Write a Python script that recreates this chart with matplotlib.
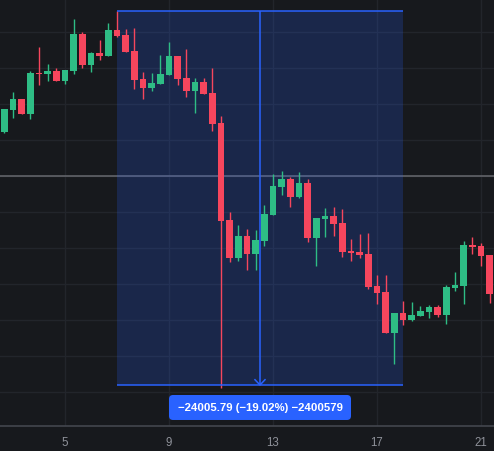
import matplotlib
matplotlib.use("Agg")
import matplotlib.pyplot as plt
from matplotlib.patches import Rectangle, FancyBboxPatch
from matplotlib.transforms import IdentityTransform
import numpy as np

# ---- data (8h candles) ----
opens = [118478, 119892, 120579, 119635, 122249, 122204, 122378, 121755, 122397, 124755,
         122782, 123534, 123341, 125012, 124690, 123663, 121864, 121305, 121562, 122140,
         123341, 121928, 121112, 121671, 120965, 119037, 112806, 110384, 111778, 110622,
         111457, 113127, 114926, 115440, 114283, 115183, 111650, 112870, 113062, 112613,
         110815, 110751, 110622, 108567, 108181, 105547, 106832, 106383, 106639, 106896,
         107217, 106703, 108438, 108567, 111200, 111136, 110558]
highs = [119939, 121029, 120579, 122378, 123920, 122827, 122551, 122442, 125718, 124883,
         123598, 124369, 125461, 126213, 125076, 125140, 122313, 122249, 123406, 124241,
         123341, 123791, 121928, 121928, 122570, 119487, 113320, 112485, 112228, 112164,
         113769, 115761, 115954, 115568, 115889, 115440, 112934, 113577, 113641, 113513,
         111585, 111907, 111971, 109273, 109273, 106832, 107603, 107539, 107282, 107346,
         107346, 108631, 109466, 111457, 111714, 111328, 110558]
lows = [118414, 119378, 119635, 119314, 121498, 121755, 121755, 121562, 122204, 122590,
        122333, 123104, 123341, 124562, 123617, 121241, 120598, 121112, 121562, 122140,
        121498, 120727, 119699, 120920, 118543, 102046, 110108, 110192, 109613, 109613,
        111155, 113127, 114412, 113641, 114219, 111393, 109851, 111714, 111778, 110429,
        110172, 110365, 108374, 107410, 105547, 103555, 106061, 106318, 106639, 106511,
        106575, 106125, 108246, 107410, 110622, 109851, 107474]
closes = [119939, 120579, 119635, 122249, 122204, 122378, 121755, 122442, 124755, 122782,
          123534, 123341, 125012, 124626, 123617, 121819, 121305, 121607, 122185, 123341,
          121883, 121112, 121671, 120920, 118992, 112761, 110384, 111778, 110622, 111521,
          113191, 114990, 115440, 114283, 115183, 111650, 112934, 113062, 112549, 110751,
          110686, 110558, 108502, 108117, 105547, 106832, 106383, 106703, 106960, 107217,
          106703, 108502, 108631, 111200, 111071, 110493, 108053]

tick_pos = [7, 19, 31, 43, 55]
tick_labels = ["5", "9", "13", "17", "21"]
grid_levels = [124883, 122570, 120258, 117945, 115633, 113320, 111008, 108695,
               106383, 104070, 101757]
crosshair_price = 115633

measure_start_idx = 13
measure_end_idx = 46
measure_start = 126213.17
measure_end = 102207.38

# ---- style ----
BG = "#17191d"
GRID = "#22252b"
UP = "#2ebd85"
DOWN = "#f6465d"
BLUE = "#2962ff"

W, H = 494, 452
fig = plt.figure(figsize=(W / 100, H / 100), dpi=100, facecolor=BG)
ax = fig.add_axes([0, 25 / H, 1, 427 / H])
ax.set_facecolor(BG)
ax.set_xlim(-0.5, 56.5)
ax.set_ylim(99573, 127003)

for s in ["top", "left", "right"]:
    ax.spines[s].set_visible(False)
ax.spines["bottom"].set_color("#43464e")
ax.spines["bottom"].set_linewidth(1.2)

ax.set_yticks(grid_levels)
ax.set_yticklabels([])
ax.tick_params(axis="y", length=0)
ax.set_xticks(tick_pos)
ax.set_xticklabels(tick_labels, family="Liberation Sans", fontsize=8.3, color="#8f929a")
ax.tick_params(axis="x", length=0, pad=7)
ax.grid(True, color=GRID, lw=1, zorder=0)
ax.set_axisbelow(True)

# crosshair
ax.axhline(crosshair_price, color="#66686e", lw=1.1, zorder=1)

# measurement box fill
ax.add_patch(Rectangle((measure_start_idx, measure_end), measure_end_idx - measure_start_idx,
                       measure_start - measure_end, facecolor=BLUE, alpha=0.2,
                       edgecolor="none", zorder=2))

# candles
x = np.arange(len(opens))
o = np.array(opens, float)
c = np.array(closes, float)
h = np.array(highs, float)
l = np.array(lows, float)
up = c >= o
colors = np.where(up, UP, DOWN)
ax.vlines(x, l, h, colors=colors, lw=1, zorder=3)
bottoms = np.minimum(o, c)
heights = np.maximum(np.abs(c - o), 70)
ax.bar(x, heights, bottom=bottoms, width=0.77, color=colors, edgecolor="none", zorder=4)

# measurement lines
mid = (measure_start_idx + measure_end_idx) / 2
ax.hlines([measure_start, measure_end], measure_start_idx, measure_end_idx,
          color=BLUE, lw=1.1, zorder=5)
ax.vlines(mid, measure_end, measure_start, color=BLUE, lw=1.1, zorder=5)
ax.plot([mid - 0.58, mid, mid + 0.58], [measure_end + 340, measure_end, measure_end + 340],
        color=BLUE, lw=1.1, zorder=5)

# label
fig.canvas.draw()
cx, cy = ax.transData.transform((mid, measure_end))
box_w, box_h = 182, 25
top = cy - 10
lab = FancyBboxPatch((cx - box_w / 2, top - box_h), box_w, box_h,
                     boxstyle="round,pad=0,rounding_size=4", transform=IdentityTransform(),
                     facecolor=BLUE, edgecolor="none", zorder=6)
fig.patches.append(lab)
diff = measure_end - measure_start
pct = diff / measure_start * 100
txt = f"{diff:.2f} ({pct:.2f}%) {round(diff * 100)}".replace("-", "\u2212")
fig.text(cx, top - box_h / 2, txt, transform=IdentityTransform(), ha="center",
         va="center", color="white", fontsize=8.2, fontweight="bold",
         family="Liberation Sans", zorder=7)

fig.savefig("out.png", dpi=100, facecolor=BG)
